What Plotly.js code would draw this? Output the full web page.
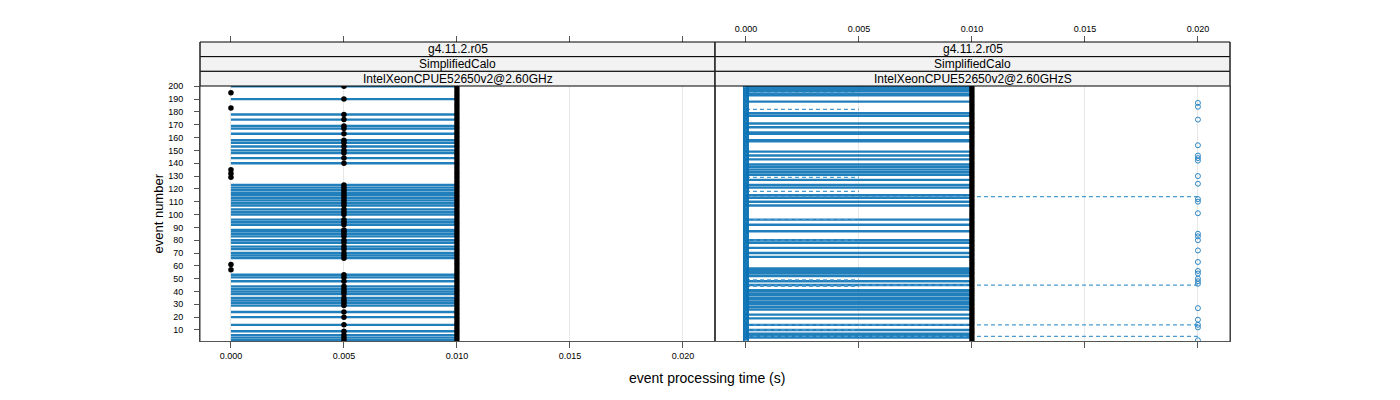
<!DOCTYPE html>
<html>
<head>
<meta charset="utf-8">
<script src="https://cdn.plot.ly/plotly-3.0.1.min.js"></script>
<style>
	body { margin: 0; background: #fff; }
	#chart { width: 1400px; height: 400px; }
</style>
</head>
<body>
<div id="chart"></div>
<script>
// tick labels
const timeTicks = [0, 0.005, 0.010, 0.015, 0.020];
const timeTickText = ['0.000', '0.005', '0.010', '0.015', '0.020'];
const eventTicks = [10, 20, 30, 40, 50, 60, 70, 80, 90, 100, 110, 120, 130, 140, 150, 160, 170, 180, 190, 200];

// strip labels, one list per panel
const leftStrips = ['g4.11.2.r05', 'SimplifiedCalo', 'IntelXeonCPUE52650v2@2.60GHz'];
const rightStrips = ['g4.11.2.r05', 'SimplifiedCalo', 'IntelXeonCPUE52650v2@2.60GHzS'];

// event categories (1..200)
const eventNumbers = Array.from({length: 200}, (_, i) => i + 1);

// left panel: events that reach 0.010 with a line, events only measured at 0
const leftLineEvents = [200, 190, 178, 174, 169, 167, 163, 158, 156, 153, 150, 148, 144, 140,
	123, 121, 119, 117, 115, 113, 111, 109, 107, 104, 102, 100, 96, 94, 92, 88, 87, 85, 83, 80,
	78, 75, 73, 70, 68, 66, 53, 51, 48, 44, 42, 40, 38, 35, 33, 31, 29, 24, 20, 14, 9, 6, 4, 2];
const leftZeroEvents = [195, 183, 135, 132, 129, 61, 57];
const leftLineTime = 0.010;
const leftHalfTime = 0.005;

// right panel
const rightLineEvents = [200, 199, 198, 197, 196, 194, 193, 188, 179, 177, 171, 168, 164, 163, 158,
	157, 149, 146, 143, 139, 137, 135, 133, 131, 127, 123, 121, 115, 113, 110, 107, 96, 92, 87, 80,
	78, 74, 70, 67, 58, 57, 56, 55, 54, 52, 48, 45, 41, 40, 38, 37, 35, 34, 32, 30, 28, 26, 22, 19,
	14, 10, 7, 6, 5, 4];
const rightShortDashEvents = [195, 182, 129, 118, 96, 80, 49, 44, 10];
const rightLongDashEvents = [114, 45, 14, 5];
const rightSlowEvents = [187, 184, 174, 154, 146, 144, 142, 130, 124, 112, 110, 101, 85, 83, 80,
	72, 63, 56, 54, 50, 48, 46, 27, 18, 14, 12, 2];
const rightLineTime = 0.010;
const rightShortTime = 0.005;
const rightSlowTime = 0.020;

const chart = (() => {
	const blue = '#0a72b5';
	const lightBlue = '#4a9ad0';
	const axisCol = '#555';
	const W = 1400, H = 400;
	const px = (x) => x / W;
	const py = (y) => 1 - y / H;

	// segments from 0 to t for each event, split by nulls
	const segments = (events, t) => {
		let x = [], y = [];
		events.forEach(e => {
			x.push(0, t, null);
			y.push(e, e, null);
		});
		return {x, y};
	}

	const lineTrace = (events, t, xa, ya, color, width, dash, opacity) => {
		let s = segments(events, t);
		return {
			x: s.x, y: s.y, xaxis: xa, yaxis: ya,
			mode: 'lines', type: 'scatter', hoverinfo: 'skip',
			line: {color: color, width: width, dash: dash},
			opacity: opacity
		};
	}

	const dotTrace = (events, t, xa, ya, symbol, color, size, lw) => {
		return {
			x: events.map(() => t), y: events, xaxis: xa, yaxis: ya,
			mode: 'markers', type: 'scatter', hoverinfo: 'skip',
			marker: {symbol: symbol, color: color, size: size, line: {color: color, width: lw}}
		};
	}

	const buildTraces = () => {
		return [
			// left panel
			lineTrace(leftLineEvents, leftLineTime, 'x', 'y', blue, 2.4, 'solid', 0.9),
			dotTrace(leftZeroEvents, 0, 'x', 'y', 'circle', '#000', 5.5, 0),
			dotTrace(leftLineEvents, leftHalfTime, 'x', 'y', 'circle', '#000', 5.5, 0),
			dotTrace(eventNumbers, leftLineTime, 'x', 'y', 'circle', '#000', 5, 0),
			// right panel
			lineTrace(rightLineEvents, rightLineTime, 'x2', 'y2', blue, 2.4, 'solid', 0.9),
			lineTrace(rightShortDashEvents, rightShortTime, 'x2', 'y2', lightBlue, 1.2, '4px,3px', 1),
			lineTrace(rightLongDashEvents, rightSlowTime, 'x2', 'y2', lightBlue, 1.2, '4px,3px', 1),
			dotTrace(eventNumbers, 0, 'x2', 'y2', 'circle-open', blue, 5, 1),
			dotTrace(rightSlowEvents, rightSlowTime, 'x2', 'y2', 'circle-open', '#2b86c4', 5, 1),
			dotTrace(eventNumbers, rightLineTime, 'x2', 'y2', 'circle', '#000', 5, 0),
			// dummies so the top tick axes get drawn
			{x: [null], y: [null], xaxis: 'x3', yaxis: 'y', type: 'scatter', mode: 'markers'},
			{x: [null], y: [null], xaxis: 'x4', yaxis: 'y2', type: 'scatter', mode: 'markers'}
		];
	}

	const xRange = [-0.00137, 0.02142];
	const yRange = [1.4, 200.2];
	const plotTop = 86, plotBottom = 341, stripTop = 42;
	const leftX = [200, 715], rightX = [715, 1230];

	const xAxisBase = (domain, labels) => ({
		domain: [px(domain[0]), px(domain[1])],
		range: xRange,
		tickvals: timeTicks, ticktext: timeTickText,
		showticklabels: labels,
		ticks: 'outside', ticklen: 6, tickcolor: axisCol,
		showline: true, linecolor: axisCol, linewidth: 1,
		showgrid: true, gridcolor: '#e8e8e8', gridwidth: 1,
		zeroline: false, fixedrange: true,
		tickfont: {size: 9}
	});

	const topAxis = (over, labels) => ({
		overlaying: over, anchor: 'free', position: py(stripTop), side: 'top',
		range: xRange, tickvals: timeTicks, ticktext: timeTickText,
		showticklabels: labels, ticks: 'outside', ticklen: 6, tickcolor: axisCol,
		showline: false, showgrid: false, zeroline: false,
		tickfont: {size: 9}
	});

	const buildStrips = (xs, labels) => {
		let shapes = [], notes = [];
		let rowH = (plotTop - stripTop) / labels.length;
		labels.forEach((txt, i) => {
			let y0 = stripTop + i * rowH;
			shapes.push({
				type: 'rect', xref: 'paper', yref: 'paper',
				x0: px(xs[0]), x1: px(xs[1]), y0: py(y0 + rowH), y1: py(y0),
				fillcolor: '#f2f2f2', line: {color: '#000', width: 1}
			});
			notes.push({
				xref: 'paper', yref: 'paper', x: px((xs[0] + xs[1]) / 2), y: py(y0 + rowH / 2),
				text: txt, showarrow: false, font: {size: 12, color: '#000'},
				xanchor: 'center', yanchor: 'middle'
			});
		});
		return {shapes, notes};
	}

	const buildLayout = () => {
		let ls = buildStrips(leftX, leftStrips);
		let rs = buildStrips(rightX, rightStrips);
		let xa = xAxisBase(leftX, true);
		xa.anchor = 'y';
		let xa2 = xAxisBase(rightX, false);
		xa2.anchor = 'y2';
		let yDomain = [py(plotBottom), py(plotTop)];
		let titles = [
			{xref: 'paper', yref: 'paper', x: px(158), y: py((plotTop + plotBottom) / 2),
				xanchor: 'center', yanchor: 'middle',
				text: 'event number', textangle: -90, showarrow: false, font: {size: 13}},
			{xref: 'paper', yref: 'paper', x: px(707), y: py(378),
				xanchor: 'center', yanchor: 'middle',
				text: 'event processing time (s)', showarrow: false, font: {size: 14}}
		];
		// panel side borders that run through the strips
		let borders = [leftX[0], rightX[0], rightX[1]].map(x => ({
			type: 'line', xref: 'paper', yref: 'paper',
			x0: px(x), x1: px(x), y0: py(plotBottom), y1: py(stripTop),
			line: {color: '#333', width: 1}
		}));
		return {
			width: W, height: H,
			margin: {l: 0, r: 0, t: 0, b: 0},
			paper_bgcolor: '#fff', plot_bgcolor: 'rgba(0,0,0,0)',
			showlegend: false,
			font: {family: 'Liberation Sans, Arial, sans-serif', size: 9, color: '#000'},
			xaxis: xa,
			xaxis2: xa2,
			xaxis3: topAxis('x', false),
			xaxis4: topAxis('x2', true),
			yaxis: {
				domain: yDomain, range: yRange, anchor: 'x',
				tickvals: eventTicks, ticks: 'outside', ticklen: 5, tickcolor: axisCol,
				ticklabelstandoff: 9,
				showline: true, linecolor: axisCol, mirror: true,
				showgrid: false, zeroline: false, tickfont: {size: 9}
			},
			yaxis2: {
				domain: yDomain, range: yRange, anchor: 'x2',
				showticklabels: false, ticks: '',
				showline: true, linecolor: axisCol, mirror: true,
				showgrid: false, zeroline: false
			},
			shapes: ls.shapes.concat(rs.shapes, borders),
			annotations: ls.notes.concat(rs.notes, titles)
		};
	}

	const main = () => {
		Plotly.newPlot('chart', buildTraces(), buildLayout(), {displayModeBar: false, staticPlot: true});
	}

	return {main}
})();

chart.main();
</script>
</body>
</html>
